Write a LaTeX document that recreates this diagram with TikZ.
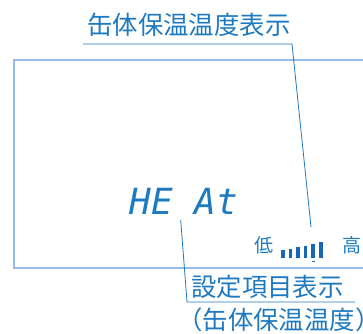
\documentclass[tikz,border=0pt]{standalone}
\usepackage{fontspec}
\newfontfamily\jpfont{Noto Sans CJK JP}
\newfontfamily\segfont{DejaVu Sans Mono Oblique}
\definecolor{lblue}{RGB}{30,122,192}
\definecolor{fblue}{RGB}{152,188,232}
\definecolor{bblue}{RGB}{22,104,182}
\tikzset{
  lbl/.style={inner sep=0pt,text=lblue,font=\jpfont\fontsize{25.4}{25.4}\selectfont},
  lead/.style={draw=lblue,line width=0.8pt},
}
\begin{document}
\begin{tikzpicture}[x=1pt,y=1pt]
  \useasboundingbox (0,0) rectangle (363,333);
  % display frame
  \draw[fblue,line width=1.4pt] (370,273) -- (14,273) -- (14,65) -- (370,65);
  \node[inner sep=0pt,text=lblue,font=\segfont\fontsize{36}{36}\selectfont] (heat) at (184,132) {HE At};
  \node[inner sep=0pt,text=lblue,font=\jpfont\fontsize{19}{19}\selectfont] (low) at (264,88) {低};
  \node[inner sep=0pt,text=lblue,font=\jpfont\fontsize{19}{19}\selectfont] (high) at (352,88) {高};
  \foreach \i/\h in {0/8,1/9,2/11,3/12,4/14,5/16}
    \fill[bblue] (281+7.6*\i,75) rectangle +(3.6,\h);
  \draw[bblue,line width=1pt] (311.5,72) -- (315,72);
  % labels and leaders
  \node[lbl,anchor=west] (tlbl) at (87,308) {缶体保温温度表示};
  \coordinate (tl) at (83,289);
  \coordinate (tr) at (292,289);
  \coordinate (tend) at (311,106);
  \draw[lead] (tl) -- (tr) -- (tend);
  \node[lbl,anchor=west] (slbl) at (191,46) {設定項目表示};
  \node[lbl,anchor=west] (sub) at (177,13) {（缶体保温温度）};
  \coordinate (hs) at (180.7,113);
  \coordinate (hb) at (187,31);
  \coordinate (he) at (355,31);
  \draw[lead] (hs) -- (hb) -- (he);
\end{tikzpicture}
\end{document}
